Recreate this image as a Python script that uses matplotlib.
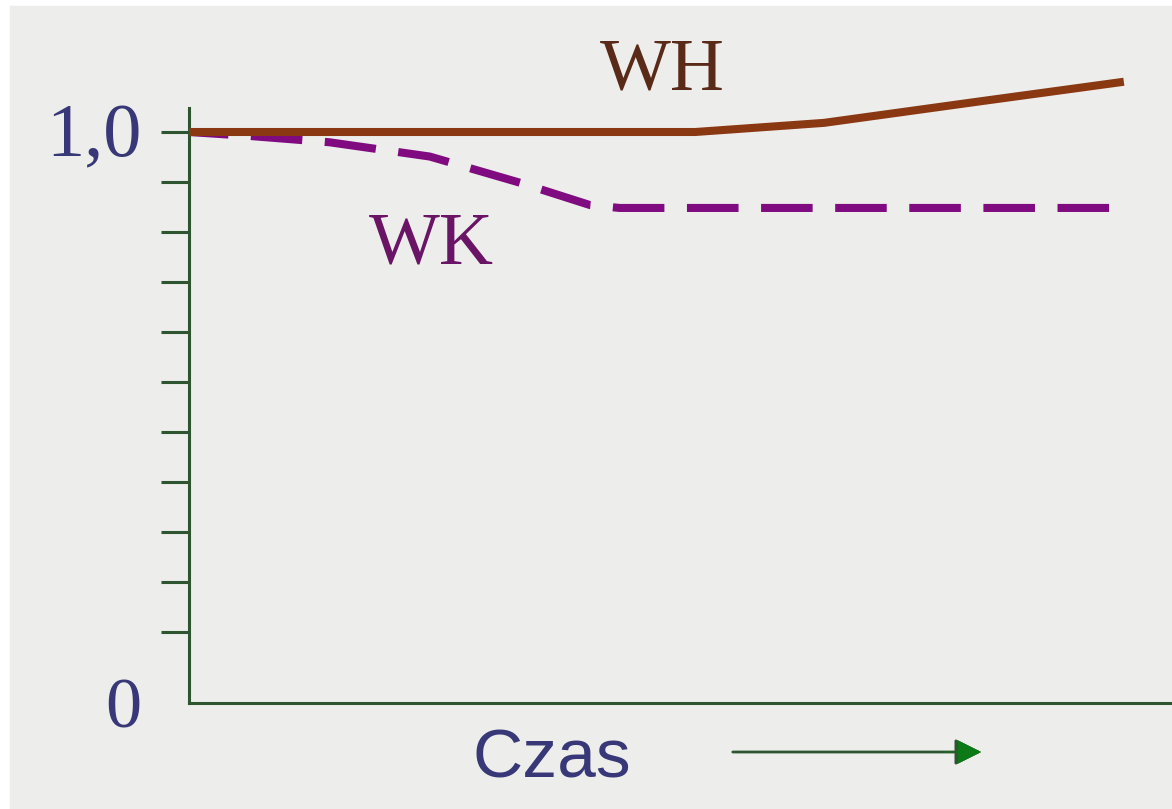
import matplotlib
matplotlib.use('Agg')
import matplotlib.pyplot as plt
import matplotlib.transforms as mtransforms
from matplotlib.patches import Rectangle, FancyArrowPatch
import numpy as np

# data (time in arbitrary units 0..10, ratio relative to start)
wh_t = [0.0, 5.15, 6.46, 8.06, 9.51]
wh_v = [1.0, 1.0, 1.016, 1.054, 1.088]
wk_t = [0.0, 0.62, 1.43, 2.45, 3.37, 4.08, 4.38, 9.51]
wk_v = [1.0, 0.993, 0.982, 0.957, 0.911, 0.872, 0.867, 0.867]
tick_vals = [1.0 - k * 0.0875 for k in range(11)]

W, H, DPI = 1172, 809, 100
fig = plt.figure(figsize=(W / DPI, H / DPI), dpi=DPI)
fig.patch.set_facecolor('white')
bg = '#ededeb'
fig.add_artist(Rectangle((10 / W, 0), 1, (H - 6) / H, transform=fig.transFigure,
                         color=bg, zorder=-10))

ax = fig.add_axes([189 / W, (H - 703) / H, 1 - 189 / W, (703 - 40) / H])
ax.set_facecolor('none')
ax.set_xlim(0, 10)
ax.set_ylim(0, (703 - 40) / 571)

axis_col = '#2d5530'
for s in ['top', 'right']:
    ax.spines[s].set_visible(False)
ax.spines['left'].set_bounds(0, (703 - 108) / 571)
for s in ['left', 'bottom']:
    ax.spines[s].set_color(axis_col)
    ax.spines[s].set_linewidth(2.2)

ax.set_xticks([])
ax.set_yticks(tick_vals)
ax.set_yticklabels([])
ax.tick_params(axis='y', length=20, width=2.2, color=axis_col, direction='out')

# lines
ax.plot(wk_t, wk_v, color='#800a80', lw=5.8, linestyle=(1.5, (6.4, 2.8)),
        solid_capstyle='butt', clip_on=False, zorder=2)
ax.plot(wh_t, wh_v, color='#8a3812', lw=5.8, solid_capstyle='butt',
        clip_on=False, zorder=3)

# labels
serif = ['Liberation Serif', 'DejaVu Serif']
trans = mtransforms.blended_transform_factory(fig.transFigure, ax.transData)
ax.text(94 / W, 0.989, '1,0', transform=trans, ha='center', va='center',
        fontsize=55, family=serif, color='#383878')
ax.text(123 / W, -0.012, '0', transform=trans, ha='center', va='center',
        fontsize=52, family=serif, color='#383878')
ax.text(4.82, 1.105, 'WH', ha='center', va='center', fontsize=54,
        family=serif, color='#5a2a18')
ax.text(2.47, 0.800, 'WK', ha='center', va='center', fontsize=54,
        family=serif, color='#6a1466')

fig.text(552 / W, 1 - 760 / H, 'Czas', ha='center', va='center', fontsize=50,
         family=['Liberation Sans', 'DejaVu Sans'], color='#383878')
arr = FancyArrowPatch((730 / W, 1 - 752 / H), (984 / W, 1 - 752 / H),
                      transform=fig.transFigure, arrowstyle='-|>',
                      mutation_scale=40, lw=2, color=axis_col)
fig.add_artist(arr)
fig.add_artist(FancyArrowPatch((940 / W, 1 - 752 / H), (984 / W, 1 - 752 / H),
                               transform=fig.transFigure, arrowstyle='-|>',
                               mutation_scale=40, lw=0.5, color='#0b7a14'))

fig.savefig('out.png', dpi=DPI, facecolor=fig.get_facecolor())
